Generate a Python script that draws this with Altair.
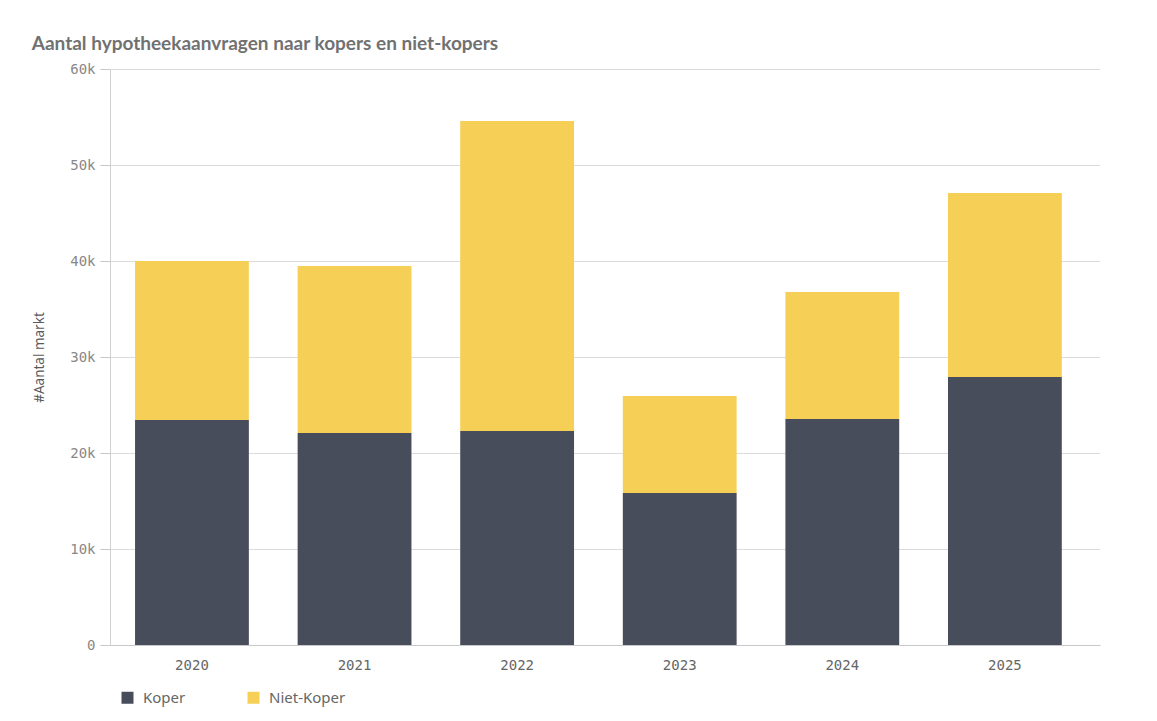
import altair as alt
import pandas as pd

years = ["2020", "2021", "2022", "2023", "2024", "2025"]
koper = [23450, 22080, 22290, 15830, 23540, 27920]
niet_koper = [16550, 17400, 32290, 10110, 13230, 19160]
series = ["Koper", "Niet-Koper"]
colors = ["#484d5b", "#f5cf56"]

rows = []
for y, k, n in zip(years, koper, niet_koper):
    rows.append({"jaar": y, "groep": "Koper", "waarde": k, "orde": 0})
    rows.append({"jaar": y, "groep": "Niet-Koper", "waarde": n, "orde": 1})
df = pd.DataFrame(rows)

chart = alt.Chart(df).mark_bar().encode(
    x=alt.X("jaar:N", sort=years, title=None,
            scale=alt.Scale(paddingInner=0.3, paddingOuter=0.1945, align=0.396),
            axis=alt.Axis(labelAngle=0, labelFont="DejaVu Sans Mono", labelFontSize=14,
                          labelColor="#666666", ticks=False, domainColor="#c8c8c8",
                          labelPadding=13)),
    y=alt.Y("waarde:Q", stack="zero", title="#Aantal markt",
            scale=alt.Scale(domain=[0, 60000], nice=False),
            axis=alt.Axis(values=[0, 10000, 20000, 30000, 40000, 50000, 60000],
                          labelExpr="datum.value == 0 ? '0' : (datum.value/1000) + 'k'",
                          labelFont="DejaVu Sans Mono", labelFontSize=14, labelColor="#888888",
                          gridColor="#dcdcdc", tickColor="#c8c8c8", tickSize=10,
                          domainColor="#d0d0d0", labelPadding=5,
                          titleFont="Noto Sans", titleFontSize=13.5, titleFontWeight="normal",
                          titleColor="#595959", titlePadding=23)),
    color=alt.Color("groep:N", scale=alt.Scale(domain=series, range=colors),
                    legend=alt.Legend(title=None, orient="none", legendX=10, legendY=621,
                                      direction="horizontal", symbolType="square",
                                      symbolSize=144, symbolStrokeWidth=0,
                                      labelFont="Noto Sans", labelFontSize=15,
                                      labelColor="#666666", columnPadding=60,
                                      labelOffset=8)),
    order=alt.Order("orde:Q"),
).properties(
    width=990,
    height=576,
    title=alt.TitleParams("Aantal hypotheekaanvragen naar kopers en niet-kopers",
                          anchor="start", dx=-1, offset=8, font="Lato",
                          fontSize=19, fontWeight="bold", color="#717171"),
    autosize=alt.AutoSizeParams(type="none"),
    padding={"left": 102, "top": 61, "right": 40, "bottom": 70},
).configure_view(stroke=None)

chart.save("out.html", embed_options={"renderer": "svg", "actions": False})
